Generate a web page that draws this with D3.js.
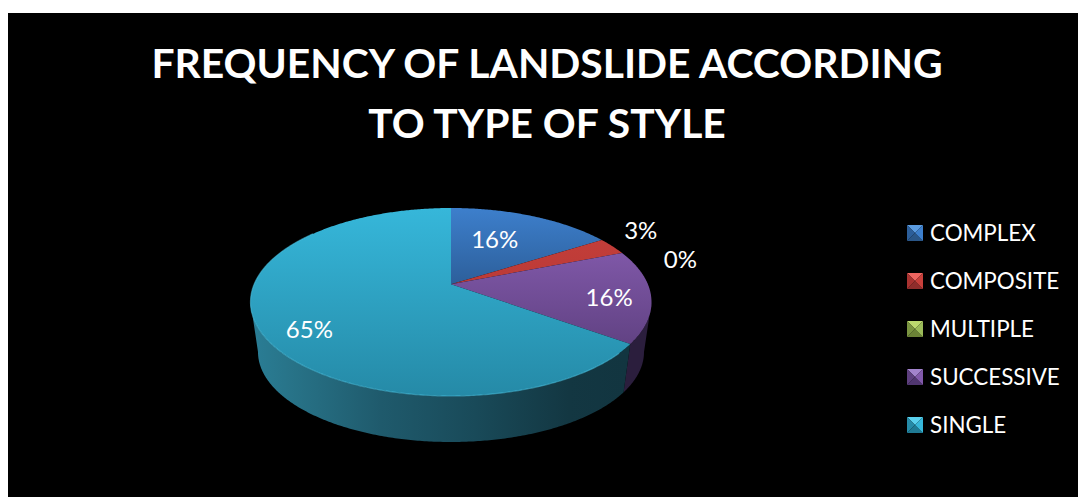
<!DOCTYPE html>
<html>
<head>
<meta charset="utf-8">
<script src="https://cdn.jsdelivr.net/npm/d3@7/dist/d3.min.js"></script>
<style>
  html, body { margin: 0; padding: 0; background: #fff; }
  svg { display: block; }
  text { font-family: Lato, "Open Sans", sans-serif; fill: #fff; }
</style>
</head>
<body>
<svg id="chart" width="1078" height="497"></svg>
<script>
// Landslide style frequency, percent of recorded events
const categories = ["COMPLEX", "COMPOSITE", "MULTIPLE", "SUCCESSIVE", "SINGLE"];
const percents = [16, 3, 0, 16, 65];
const titleLines = ["FREQUENCY OF LANDSLIDE ACCORDING", "TO TYPE OF STYLE"];

// Colour ramps: top of face, bottom of face, bevel light, bevel dark, side wall
const faceTop = ["#3d7fcc", "#c8403b", "#9bbb59", "#8159aa", "#36b7da"];
const faceBottom = ["#2c5e99", "#a83230", "#7a9440", "#5d3f7e", "#258aa7"];
const swatchLight = ["#5b9be0", "#ee6560", "#bcd96e", "#a283cc", "#5ad0ee"];
const swatchDark = ["#2a5687", "#8f2d2b", "#6b8236", "#503670", "#1f7a94"];
const wallShade = "#2b1e3d";

// Text placement for each percentage: radial fraction of the disc plus a nudge
const labelRadial = [0.6, 1.2, 1.4, 0.75, 0.75];
const labelNudge = [[-8, -1], [-1, -9], [-4, 18], [9, 5], [-1, 12]];

const svg = d3.select("#chart");
const defs = svg.append("defs");

svg.append("rect")
  .attr("x", 8).attr("y", 13)
  .attr("width", 1070).attr("height", 484)
  .attr("fill", "#000");

svg.append("g").selectAll("text")
  .data(titleLines)
  .join("text")
  .attr("x", 547)
  .attr("y", (d, i) => 78 + i * 60)
  .attr("text-anchor", "middle")
  .attr("font-size", 40.8)
  .attr("font-weight", 700)
  .text(d => d);

// Tilted disc geometry: the centre sits above the middle of the ellipse
const topDisc = { cx: 451, cy: 302, rx: 200.5, ry: 94 };
const baseDisc = { cx: 451, cy: 352, rx: 193, ry: 90 };
const tilt = -0.19;

function project(angle, radial, disc) {
  const ux = radial * Math.sin(angle);
  const uy = -radial * Math.cos(angle);
  const w = 1 + tilt * uy;
  return [
    disc.cx + disc.rx * ux * Math.sqrt(1 - tilt * tilt) / w,
    disc.cy + disc.ry * (uy + tilt) / w
  ];
}

function rim(a0, a1, disc) {
  const n = Math.max(2, Math.ceil(Math.abs(a1 - a0) / 0.01));
  return d3.range(n + 1).map(i => project(a0 + (a1 - a0) * i / n, 1, disc));
}

const pieLayout = d3.pie().sort(null).value(d => d)(percents);
const line = d3.line();

// Side wall is only visible between the two silhouette tangents
const wallFrom = Math.acos(tilt);
const wallTo = 2 * Math.PI - wallFrom;

const wallGradient = defs.append("linearGradient")
  .attr("id", "wall-single")
  .attr("gradientUnits", "userSpaceOnUse")
  .attr("x1", 250).attr("x2", 625).attr("y1", 0).attr("y2", 0);
[[0, "#2a7e96"], [0.1, "#287489"], [0.35, "#1f5a6c"], [0.6, "#194a59"], [0.85, "#133742"], [1, "#123540"]]
  .forEach(([o, c]) => wallGradient.append("stop").attr("offset", o).attr("stop-color", c));

const wallGroup = svg.append("g");
pieLayout.forEach((s, i) => {
  const a0 = Math.max(s.startAngle, wallFrom);
  const a1 = Math.min(s.endAngle, wallTo);
  if (a1 <= a0) return;
  const pts = rim(a0, a1, topDisc).concat(rim(a1, a0, baseDisc));
  wallGroup.append("path")
    .attr("d", line(pts) + "Z")
    .attr("fill", categories[i] === "SINGLE" ? "url(#wall-single)" : wallShade);
});

// Top face: one vertically shaded wedge per category
const faceGroup = svg.append("g");
pieLayout.forEach((s, i) => {
  if (s.endAngle <= s.startAngle) return;
  const grad = defs.append("linearGradient")
    .attr("id", "face-" + i)
    .attr("gradientUnits", "userSpaceOnUse")
    .attr("x1", 0).attr("x2", 0).attr("y1", 208).attr("y2", 396);
  const span = i === 0 ? [faceTop[i], faceBottom[i], 0.42] : i === 3 ? [faceTop[i], faceBottom[i], 0.8] : [faceTop[i], faceBottom[i], 1];
  const y0 = i === 3 ? 0.2 : 0;
  grad.append("stop").attr("offset", y0).attr("stop-color", span[0]);
  grad.append("stop").attr("offset", span[2]).attr("stop-color", span[1]);
  const pts = [project(0, 0, topDisc)].concat(rim(s.startAngle, s.endAngle, topDisc));
  faceGroup.append("path")
    .attr("d", line(pts) + "Z")
    .attr("fill", `url(#face-${i})`);
});

// Soft highlight along the front edge of the largest wedge
const largest = pieLayout[4];
svg.append("path")
  .attr("d", line(rim(largest.startAngle + 0.1, largest.endAngle - 0.9, topDisc)))
  .attr("fill", "none")
  .attr("stroke", "#4cc3e2")
  .attr("stroke-opacity", 0.55)
  .attr("stroke-width", 1.2);

svg.append("g").selectAll("text")
  .data(pieLayout)
  .join("text")
  .attr("transform", (d, i) => {
    const p = project((d.startAngle + d.endAngle) / 2, labelRadial[i], topDisc);
    return `translate(${p[0] + labelNudge[i][0]},${p[1] + labelNudge[i][1]})`;
  })
  .attr("text-anchor", "middle")
  .attr("dy", "0.35em")
  .attr("font-size", 24)
  .text(d => `${d.data}%`);

// Legend with bevelled swatches
const legendY = d3.scalePoint().domain(categories).range([233, 425]);
const legend = svg.append("g").selectAll("g")
  .data(categories)
  .join("g")
  .attr("transform", d => `translate(907,${legendY(d)})`);

const half = 8;
legend.each(function (d, i) {
  const g = d3.select(this);
  const c = [half, 0];
  const tl = [0, -half], tr = [half * 2, -half], br = [half * 2, half], bl = [0, half];
  g.append("path").attr("d", line([tl, tr, c]) + "Z").attr("fill", swatchLight[i]);
  g.append("path").attr("d", line([bl, br, c]) + "Z").attr("fill", swatchDark[i]);
  g.append("path").attr("d", line([tl, bl, c]) + "Z").attr("fill", faceBottom[i]);
  g.append("path").attr("d", line([tr, br, c]) + "Z").attr("fill", faceTop[i]);
});

legend.append("text")
  .attr("x", 23)
  .attr("dy", "0.35em")
  .attr("font-size", 22.4)
  .text(d => d);
</script>
</body>
</html>
